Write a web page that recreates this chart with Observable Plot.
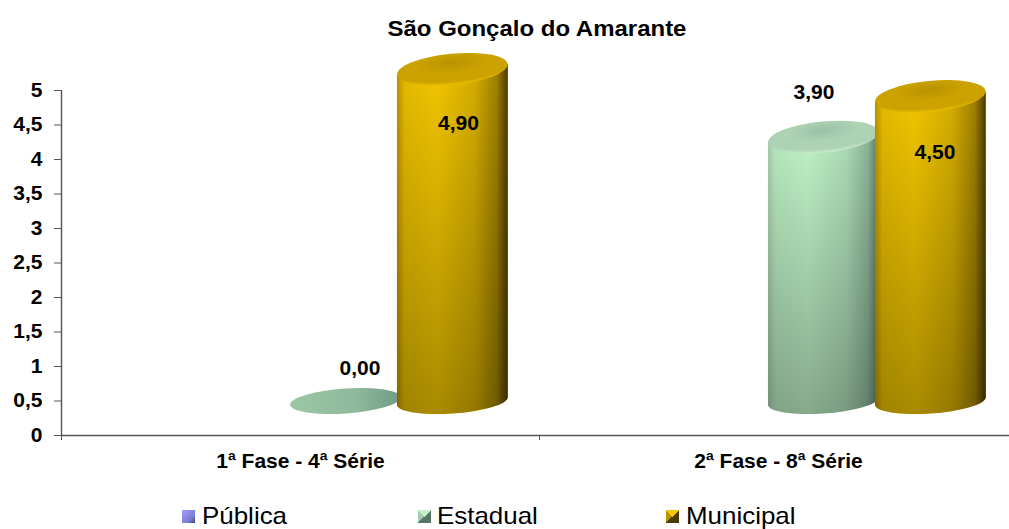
<!DOCTYPE html>
<html><head><meta charset="utf-8">
<script src="https://cdn.jsdelivr.net/npm/d3@7"></script>
<script src="https://cdn.jsdelivr.net/npm/@observablehq/plot@0.6"></script>
<style>
html,body{margin:0;padding:0;background:#fff;width:1009px;height:529px;overflow:hidden;font-family:"Liberation Sans",Arial,sans-serif}
#title{height:40px;position:relative}
#title span{position:absolute;left:537px;top:17px;transform:translateX(-50%) scaleX(1.09);font-size:22px;font-weight:bold;line-height:24px;white-space:nowrap;color:#000}
#chart svg{display:block}
#legend{position:relative;height:49px}
.sw{position:absolute;top:30px;width:13px;height:13px}
.lb{position:absolute;top:22px;font-size:24px;line-height:28px;transform-origin:left center;transform:scaleX(1.08);color:#000;white-space:nowrap}
</style></head><body>
<div id="title"><span>São Gonçalo do Amarante</span></div>
<div id="chart"></div>
<div id="legend"></div>
<script>
const categories = ["1ª Fase - 4ª Série", "2ª Fase - 8ª Série"];
const series = ["Pública", "Estadual", "Municipal"];
const publica = [null, null];
const estadual = [0.0, 3.9];
const municipal = [4.9, 4.5];
const yTicks = [0, 0.5, 1, 1.5, 2, 2.5, 3, 3.5, 4, 4.5, 5];
const valuesBySeries = [publica, estadual, municipal];

const rows = categories.flatMap((category, c) =>
  series.map((name, s) => ({category, c, name, s, value: valuesBySeries[s][c]})));

// Look of the 3-D chart
const palette = {
  "Pública":   {edge:"#7a7ad0", lit:"#a0a0ff", dark:"#40406a", cap:["#8080c8","#9090e0","#b0b0ff"]},
  "Estadual":  {edge:"#a4cbab", lit:"#c0f2c6", dark:"#567668", cap:["#9cc0a4","#aed2b4","#cdf2d0"]},
  "Municipal": {edge:"#b89200", lit:"#f2c600", dark:"#4c3a00", cap:["#b89300","#cba200","#f2c600"]}
};
const depthScale = 67.7 / 69, baseLift = 34 / 69;        // the cylinders stand on a floor in front of the axis wall
const project = (v) => baseLift + depthScale * v;
const groupStart = 0.2552, barStep = 0.2238, barWidth = 0.232;  // in band units of the x scale
const barX = (d) => d.c + groupStart + d.s * barStep;
const topTilt = -5.5, baseTilt = -4, topRy = 0.28, baseRy = 0.225;
const labelNudge = {"0|1":[14,-33], "0|2":[5.5,54], "1|1":[-10,-45], "1|2":[4,56]};
const fmt = (v) => String(v).replace(".", ",");
const font = "'Liberation Sans', Arial, sans-serif";

function defs() {
  const d = d3.create("svg:defs");
  for (const name of series) {
    const p = palette[name], id = series.indexOf(name);
    const mix = d3.interpolateRgb(p.lit, p.dark);
    const h = d.append("linearGradient").attr("id","body"+id);
    [[0,p.edge],[0.07,mix(0.08)],[0.36,p.lit],[0.7,mix(0.18)],[0.9,mix(0.5)],[1,p.dark]].forEach(([o,c]) =>
      h.append("stop").attr("offset",o).attr("stop-color",c));
    const r = d.append("radialGradient").attr("id","cap"+id).attr("cx",0.5).attr("cy",0.3).attr("r",0.72);
    [[0,p.cap[0]],[0.45,p.cap[1]],[0.82,p.cap[1]],[1,p.cap[2]]].forEach(([o,c]) =>
      r.append("stop").attr("offset",o).attr("stop-color",c));
  }
  const v = d.append("linearGradient").attr("id","shade").attr("x1",0).attr("x2",0).attr("y1",0).attr("y2",1);
  v.append("stop").attr("offset",0).attr("stop-color","#000").attr("stop-opacity",0);
  v.append("stop").attr("offset",1).attr("stop-color","#000").attr("stop-opacity",0.3);
  const z = d.append("linearGradient").attr("id","flat");
  z.append("stop").attr("offset",0).attr("stop-color","#9cc7a4");
  z.append("stop").attr("offset",0.6).attr("stop-color","#8fb99c");
  z.append("stop").attr("offset",1).attr("stop-color","#6f9a86");
  return d.node();
}

const tipOffset = (rx, ry, deg) => {
  const a = deg * Math.PI / 180;
  return (rx*rx - ry*ry) * Math.sin(-a) * Math.cos(a) / Math.sqrt(rx*rx*Math.cos(a)**2 + ry*ry*Math.sin(a)**2);
};

function cylinders(index, scales, ch) {
  const g = d3.create("svg:g");
  for (const i of index) {
    const d = rows[i];
    const x1 = ch.x1[i], x2 = ch.x2[i], cx = (x1 + x2) / 2;
    const base = ch.y1[i], top = ch.y2[i];
    const rx = (x2 - x1) / 2, ryT = rx * topRy, ryB = rx * baseRy;
    const offT = tipOffset(rx, ryT, topTilt), offB = tipOffset(rx, ryB, baseTilt);
    if (d.value === 0) {
      g.append("ellipse").attr("cx",cx).attr("cy",base).attr("rx",rx).attr("ry",ryB)
        .attr("transform",`rotate(${baseTilt} ${cx} ${base})`).attr("fill","url(#flat)");
      continue;
    }
    const path = `M${x1},${top+offT} L${x1},${base+offB} A${rx},${ryB} ${baseTilt} 0 0 ${x2},${base-offB} L${x2},${top-offT} Z`;
    g.append("path").attr("d",path).attr("fill",`url(#body${d.s})`);
    g.append("path").attr("d",path).attr("fill","url(#shade)");
    g.append("ellipse").attr("cx",cx).attr("cy",top).attr("rx",rx).attr("ry",ryT)
      .attr("transform",`rotate(${topTilt} ${cx} ${top})`).attr("fill",`url(#cap${d.s})`);
  }
  return g.node();
}

const labelMarks = rows.filter(d => d.value !== null).map(d => {
  const [dx, dy] = labelNudge[d.c + "|" + d.s];
  return Plot.text([d], {
    x: e => barX(e) + barWidth / 2, y: e => project(e.value),
    text: e => e.value.toFixed(2).replace(".", ","),
    dx, dy, fontSize: 20, fontWeight: "bold", fill: "#000", fontFamily: font, textAnchor: "middle"
  });
});

const plot = Plot.plot({
  width: 1009, height: 440, marginLeft: 61, marginRight: 0, marginTop: 50, marginBottom: 45,
  style: {background: "#fff", fontFamily: font},
  x: {type: "linear", domain: [0, 2], range: [61, 1017], axis: null},
  y: {type: "linear", domain: [0, 5], axis: null},
  marks: [
    defs,
    Plot.ruleY([0], {x1: 0, x2: 2, stroke: "#555", strokeWidth: 1.4}),
    Plot.ruleX([0], {y1: 0, y2: 5, stroke: "#555", strokeWidth: 1.4}),
    Plot.axisY({ticks: yTicks, tickSize: 7, tickPadding: 12, tickFormat: fmt, label: null, anchor: "left",
      stroke: "#555", fontSize: 20, fontWeight: "bold", fill: "#000"}),
    Plot.axisX({ticks: [0, 1, 2], tickSize: 5, tickFormat: () => "", label: null, anchor: "bottom", stroke: "#555"}),
    Plot.rect(rows, {x1: barX, x2: d => barX(d) + barWidth, y1: d => d.value === null ? null : project(0),
      y2: d => d.value === null ? null : project(d.value), render: cylinders}),
    Plot.text(categories, {x: (d, i) => i + 0.5, y: 0, text: d => d, dy: 26, fontSize: 20, fontWeight: "bold",
      fill: "#000", fontFamily: font, textAnchor: "middle"}),
    ...labelMarks
  ]
});
document.getElementById("chart").appendChild(plot);

// The reference raster is stretched sideways: widen the chart's text to match
d3.select(plot).selectAll("text").each(function () {
  const len = this.getComputedTextLength();
  if (len > 0) d3.select(this).attr("textLength", len * 1.05).attr("lengthAdjust", "spacingAndGlyphs");
});

// Legend
const legend = d3.select("#legend");
const legendPos = [[182,202],[418,437],[666,686]];
series.forEach((name, i) => {
  const p = palette[name];
  legend.append("div").attr("class","sw")
    .style("left", legendPos[i][0]+"px")
    .style("background", i === 0
      ? `linear-gradient(135deg, ${p.lit}, ${p.edge} 70%, ${p.dark})`
      : `conic-gradient(${p.lit} 0 45deg, ${p.dark} 45deg 135deg, ${p.dark} 135deg 225deg, ${p.edge} 225deg 315deg, ${p.lit} 315deg)`);
  legend.append("div").attr("class","lb").style("left", legendPos[i][1]+"px").text(name);
});
</script>
</body></html>
